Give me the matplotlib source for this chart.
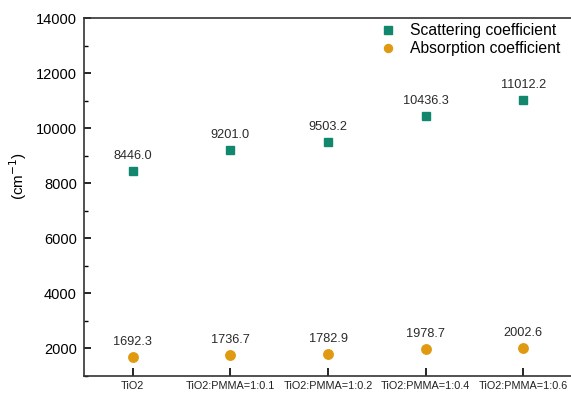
import numpy as np
import matplotlib.pyplot as plt
from matplotlib.ticker import MultipleLocator

plt.rcParams['font.family'] = ['Liberation Sans', 'DejaVu Sans']

samples = ['TiO2', 'TiO2:PMMA=1:0.1', 'TiO2:PMMA=1:0.2', 'TiO2:PMMA=1:0.4', 'TiO2:PMMA=1:0.6']
scattering = [8446.0, 9201.0, 9503.2, 10436.3, 11012.2]
absorption = [1692.3, 1736.7, 1782.9, 1978.7, 2002.6]

teal = '#11876e'
orange = '#e09a12'

fig = plt.figure(figsize=(5.71, 3.95), dpi=100)
ax = fig.add_axes([0.147, 0.049, 0.855, 0.905])

x = np.arange(len(samples))
ax.plot(x, scattering, 's', color=teal, ms=6, ls='none', label='Scattering coefficient')
ax.plot(x, absorption, 'o', color=orange, ms=6.8, ls='none', label='Absorption coefficient')

# valores em cima de cada ponto
for xi, s, a in zip(x, scattering, absorption):
    ax.annotate('%.1f' % s, (xi, s), xytext=(0, 6.5), textcoords='offset points',
                ha='center', va='bottom', fontsize=9.2, color='#2a2a2a')
    ax.annotate('%.1f' % a, (xi, a), xytext=(0, 6.5), textcoords='offset points',
                ha='center', va='bottom', fontsize=9.2, color='#2a2a2a')

ax.set_xlim(-0.5, 4.5)
ax.set_ylim(1000, 14000)
ax.set_xticks(x)
ax.set_xticklabels(samples, fontsize=7.8, color='#222222')
ax.yaxis.set_major_locator(MultipleLocator(2000))
ax.yaxis.set_minor_locator(MultipleLocator(1000))
ax.tick_params(axis='y', which='major', direction='in', length=5, width=1.2, labelsize=10.5, pad=5)
ax.tick_params(axis='y', which='minor', direction='in', length=3, width=1.0)
ax.tick_params(axis='x', direction='in', length=6, width=1.2, pad=4)
ax.spines['right'].set_visible(False)
for sp in ['left', 'bottom', 'top']:
    ax.spines[sp].set_linewidth(1.2)
    ax.spines[sp].set_color('#333333')

fig.text(0.032, 0.555, '(cm$^{-1}$)', rotation=90, fontsize=11, ha='center', va='center')

ax.legend(loc='upper right', bbox_to_anchor=(0.995, 1.012), frameon=False, fontsize=11.3,
          handlelength=0.8, handletextpad=1.0, labelspacing=0.2, borderaxespad=0.2,
          markerscale=0.85)

fig.savefig('out.png', dpi=100)
